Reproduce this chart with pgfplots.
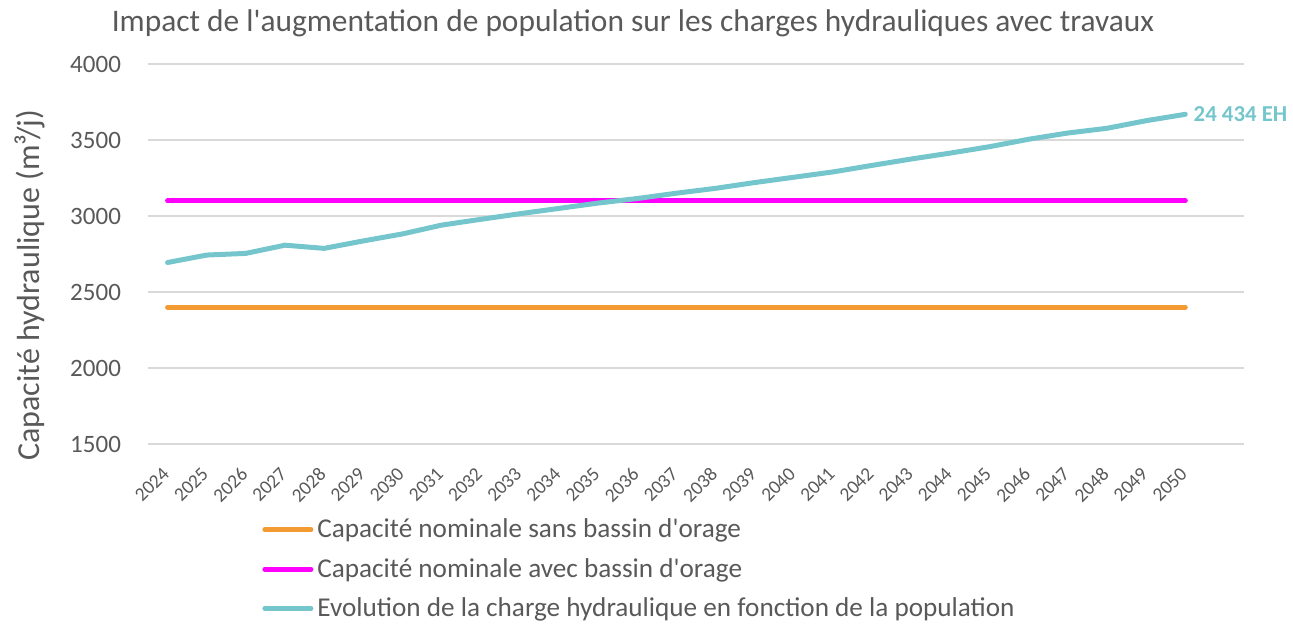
\documentclass[border=0pt]{standalone}
\usepackage{fontspec}
\setmainfont{Carlito}
\usepackage{pgfplots}
\pgfplotsset{compat=1.18}

\definecolor{txtgray}{HTML}{595959}
\definecolor{gridgray}{HTML}{D9D9D9}
\definecolor{corange}{HTML}{F39A32}
\definecolor{cmagenta}{HTML}{FF00FF}
\definecolor{cteal}{HTML}{74C6CC}

\begin{document}
\begin{tikzpicture}
% canvas of the reference (1 px = 0.5 pt)
\path (-74pt,-88.5pt) rectangle (572.5pt,222pt);
\begin{axis}[
    at={(0,0)}, anchor=south west,
    scale only axis,
    width=548pt, height=190pt,
    xmin=-0.5, xmax=27.5,
    ymin=1500, ymax=4000,
    clip mode=individual,
    ytick={1500,2000,...,4000},
    xtick={0,...,26},
    xticklabels={2024,2025,2026,2027,2028,2029,2030,2031,2032,2033,2034,2035,2036,2037,2038,2039,2040,2041,2042,2043,2044,2045,2046,2047,2048,2049,2050},
    /pgf/number format/assume math mode=true,
    /pgf/number format/set thousands separator={},
    axis line style={draw=none},
    major tick length=0pt,
    ymajorgrids,
    grid style={gridgray, line width=0.75pt},
    yticklabel style={font=\fontsize{12.5}{14}\selectfont, text=txtgray, xshift=-10pt},
    xticklabel style={font=\fontsize{9.7}{11}\selectfont, text=txtgray, xshift=0pt, yshift=-12.5pt, rotate=45, anchor=east, inner sep=1pt},
    ylabel={Capacité hydraulique (m³/j)},
    ylabel style={at={(axis description cs:-0.1077,0.418)}, anchor=center, font=\fontsize{16}{18}\selectfont, text=txtgray},
    title={Impact de l\textquotesingle augmentation de population sur les charges hydrauliques avec travaux},
    title style={at={(axis description cs:0.4425,1.075)}, anchor=center, yshift=0pt, inner sep=0pt, font=\fontsize{15.7}{17}\selectfont, text=txtgray},
    legend style={at={(axis description cs:0.104,-0.185)}, anchor=north west, draw=none, fill=none,
        font=\fontsize{13.6}{15}\selectfont, text=txtgray, row sep=4.8pt, inner sep=0pt},
    legend cell align=left,
    legend image code/.code={\draw[#1, line cap=round] (0pt,0pt) -- (23pt,0pt);},
    every axis plot/.append style={line width=2.5pt, line cap=round, line join=round, mark=none},
]
\addplot[corange] coordinates {(0,2400) (26,2400)};
\addlegendentry{Capacité nominale sans bassin d\textquotesingle orage}
\addplot[cmagenta] coordinates {(0,3100) (26,3100)};
\addlegendentry{Capacité nominale avec bassin d\textquotesingle orage}
\addplot[cteal] coordinates {
(0,2694) (1,2743) (2,2754) (3,2808) (4,2787) (5,2836) (6,2882) (7,2940) (8,2978)
(9,3015) (10,3050) (11,3085) (12,3115) (13,3150) (14,3182) (15,3220) (16,3255)
(17,3290) (18,3333) (19,3375) (20,3414) (21,3456) (22,3505) (23,3546) (24,3577)
(25,3627) (26,3669)};
\addlegendentry{Evolution de la charge hydraulique en fonction de la population}
\node[anchor=west, text=cteal, font=\fontsize{11.4}{13}\selectfont\bfseries, inner sep=0pt, xshift=4pt] at (axis cs:26,3669) {24 434 EH};
\end{axis}
\end{tikzpicture}
\end{document}
